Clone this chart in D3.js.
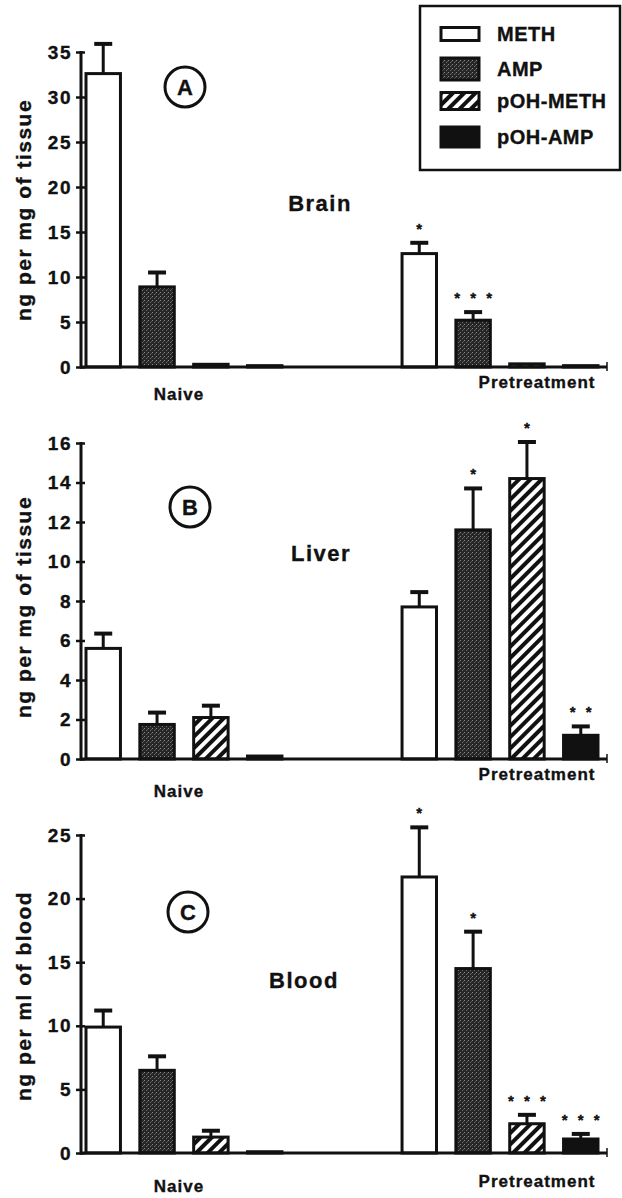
<!DOCTYPE html>
<html>
<head>
<meta charset="utf-8">
<script src="https://cdn.jsdelivr.net/npm/d3@7"></script>
<style>
  body { margin: 0; background: #fff; }
  text { font-family: Arial, "Liberation Sans", Helvetica, sans-serif; font-weight: bold; fill: #111; stroke: #111; stroke-width: 0.35px; }
</style>
</head>
<body>
<svg id="chart"></svg>
<script>
const groups = ["Naive", "Pretreatment"];
const series = ["METH", "AMP", "pOH-METH", "pOH-AMP"];

// brain, ng per mg of tissue  (rows: Naive, Pretreatment)
const brainMean = [[32.6, 8.9, 0.3, 0.15], [12.6, 5.2, 0.35, 0.15]];
const brainSem = [[3.3, 1.6, 0, 0], [1.2, 0.9, 0, 0]];
const brainStars = [["", "", "", ""], ["*", "***", "", ""]];
const brainTicks = [0, 5, 10, 15, 20, 25, 30, 35];

// liver, ng per mg of tissue
const liverMean = [[5.6, 1.75, 2.1, 0.15], [7.7, 11.6, 14.2, 1.2]];
const liverSem = [[0.75, 0.6, 0.6, 0], [0.75, 2.1, 1.85, 0.45]];
const liverStars = [["", "", "", ""], ["", "*", "*", "**"]];
const liverTicks = [0, 2, 4, 6, 8, 10, 12, 14, 16];

// blood, ng per ml of blood
const bloodMean = [[9.9, 6.5, 1.25, 0.1], [21.7, 14.5, 2.3, 1.1]];
const bloodSem = [[1.3, 1.1, 0.5, 0], [3.9, 2.9, 0.7, 0.4]];
const bloodStars = [["", "", "", ""], ["*", "*", "***", "***"]];
const bloodTicks = [0, 5, 10, 15, 20, 25];

const width = 622, height = 1198;
const svg = d3.select("#chart").attr("width", width).attr("height", height);

// fills
const defs = svg.append("defs");
const stip = defs.append("pattern").attr("id", "stip")
  .attr("patternUnits", "userSpaceOnUse").attr("width", 4).attr("height", 4);
stip.append("rect").attr("width", 4).attr("height", 4).attr("fill", "#262626");
stip.append("rect").attr("x", 0).attr("y", 0).attr("width", 1).attr("height", 1).attr("fill", "#8a8a8a");
stip.append("rect").attr("x", 2).attr("y", 2).attr("width", 1).attr("height", 1).attr("fill", "#6e6e6e");
stip.append("rect").attr("x", 3).attr("y", 1).attr("width", 1).attr("height", 1).attr("fill", "#555");

const hatch = defs.append("pattern").attr("id", "hatch")
  .attr("patternUnits", "userSpaceOnUse").attr("width", 8).attr("height", 8)
  .attr("patternTransform", "rotate(45)");
hatch.append("rect").attr("width", 8).attr("height", 8).attr("fill", "#fff");
hatch.append("rect").attr("width", 4).attr("height", 8).attr("fill", "#111");

const fills = {"METH": "#fff", "AMP": "url(#stip)", "pOH-METH": "url(#hatch)", "pOH-AMP": "#111"};

const x0 = d3.scaleBand().domain(groups).range([86, 598]).paddingInner(0.38);
const x1 = d3.scaleBand().domain(series).range([0, x0.bandwidth()]).paddingInner(0.36);

const panels = [
  {key: "A", tissue: "Brain", ylab: "ng per mg of tissue", mean: brainMean, sem: brainSem, stars: brainStars,
   ticks: brainTicks, top: 52, base: 367, circ: [185, 87], lab: [320, 203], yl: 210, gdy: [33, 21]},
  {key: "B", tissue: "Liver", ylab: "ng per mg of tissue", mean: liverMean, sem: liverSem, stars: liverStars,
   ticks: liverTicks, top: 443, base: 759, circ: [190, 507], lab: [321, 553], yl: 607, gdy: [38, 21]},
  {key: "C", tissue: "Blood", ylab: "ng per ml of blood", mean: bloodMean, sem: bloodSem, stars: bloodStars,
   ticks: bloodTicks, top: 835, base: 1153, circ: [188, 912], lab: [304, 980], yl: 996, gdy: [39, 34]}
];

panels.forEach(p => {
  const y = d3.scaleLinear().domain([0, d3.max(p.ticks)]).range([p.base, p.top]);
  const g = svg.append("g");

  const rows = [];
  groups.forEach((grp, gi) => series.forEach((s, si) => {
    rows.push({grp, s, v: p.mean[gi][si], e: p.sem[gi][si], star: p.stars[gi][si]});
  }));

  const bar = g.selectAll("g.bar").data(rows).join("g").attr("class", "bar");
  bar.append("rect")
    .attr("x", d => x0(d.grp) + x1(d.s))
    .attr("y", d => y(d.v))
    .attr("width", x1.bandwidth())
    .attr("height", d => p.base - y(d.v))
    .attr("fill", d => fills[d.s])
    .attr("stroke", "#111").attr("stroke-width", 3);

  const eb = bar.filter(d => d.e > 0);
  eb.append("line")
    .attr("x1", d => x0(d.grp) + x1(d.s) + x1.bandwidth() / 2)
    .attr("x2", d => x0(d.grp) + x1(d.s) + x1.bandwidth() / 2)
    .attr("y1", d => y(d.v)).attr("y2", d => y(d.v + d.e))
    .attr("stroke", "#111").attr("stroke-width", 3);
  eb.append("line")
    .attr("x1", d => x0(d.grp) + x1(d.s) + x1.bandwidth() / 2 - 9)
    .attr("x2", d => x0(d.grp) + x1(d.s) + x1.bandwidth() / 2 + 9)
    .attr("y1", d => y(d.v + d.e)).attr("y2", d => y(d.v + d.e))
    .attr("stroke", "#111").attr("stroke-width", 4);

  // significance stars
  bar.filter(d => d.star).each(function(d) {
    const n = d.star.length, cx = x0(d.grp) + x1(d.s) + x1.bandwidth() / 2;
    for (let i = 0; i < n; i++) {
      d3.select(this).append("text")
        .attr("x", cx + (i - (n - 1) / 2) * 16)
        .attr("y", y(d.v + d.e) - 16 + 7)
        .attr("text-anchor", "middle")
        .style("font-size", "15px")
        .text("*");
    }
  });

  // axes
  const yAxis = g.append("g").attr("transform", "translate(81,0)")
    .call(d3.axisLeft(y).tickValues(p.ticks).tickSize(5).tickPadding(4));
  yAxis.select(".domain").remove();
  yAxis.selectAll(".tick line").attr("x1", -5).attr("x2", 4).attr("stroke", "#111").attr("stroke-width", 2.5);
  yAxis.selectAll(".tick text").style("font-size", "19px").style("letter-spacing", "1.5px")
    .attr("font-family", null).attr("fill", "#111");
  g.append("line").attr("x1", 81).attr("x2", 81).attr("y1", p.top - 1).attr("y2", p.base + 1.5)
    .attr("stroke", "#111").attr("stroke-width", 3);
  g.append("line").attr("x1", 80).attr("x2", 607).attr("y1", p.base).attr("y2", p.base)
    .attr("stroke", "#111").attr("stroke-width", 3);
  g.append("line").attr("x1", 607).attr("x2", 607).attr("y1", p.base - 5).attr("y2", p.base + 4)
    .attr("stroke", "#111").attr("stroke-width", 1.5);

  g.selectAll("text.grp").data(groups).join("text").attr("class", "grp")
    .attr("x", d => x0(d) + x0.bandwidth() / 2 - (d === "Naive" ? 5 : -37))
    .attr("y", (d, i) => p.base + p.gdy[i])
    .attr("text-anchor", "middle")
    .style("font-size", "17px").style("letter-spacing", "1px")
    .text(d => d);

  g.append("text")
    .attr("transform", `translate(31,${p.yl}) rotate(-90)`)
    .attr("text-anchor", "middle")
    .style("font-size", "21px").style("letter-spacing", "1.5px")
    .text(p.ylab);

  g.append("circle").attr("cx", p.circ[0]).attr("cy", p.circ[1]).attr("r", 20)
    .attr("fill", "none").attr("stroke", "#111").attr("stroke-width", 3);
  g.append("text").attr("x", p.circ[0]).attr("y", p.circ[1] + 8)
    .attr("text-anchor", "middle").style("font-size", "22px").text(p.key);

  g.append("text").attr("x", p.lab[0]).attr("y", p.lab[1] + 8)
    .attr("text-anchor", "middle")
    .style("font-size", "22px").style("letter-spacing", "1.5px")
    .text(p.tissue);
});

// legend
const legY = [34, 69, 101, 137];
const legH = [13, 22, 17, 20];
const leg = svg.append("g");
leg.append("rect").attr("x", 420).attr("y", 6).attr("width", 200).attr("height", 164)
  .attr("fill", "#fff").attr("stroke", "#111").attr("stroke-width", 2.5);
const item = leg.selectAll("g.item").data(series).join("g").attr("class", "item");
item.append("rect")
  .attr("x", 441).attr("width", 38)
  .attr("y", (d, i) => legY[i] - legH[i] / 2)
  .attr("height", (d, i) => legH[i])
  .attr("fill", d => fills[d])
  .attr("stroke", "#111").attr("stroke-width", 3);
item.append("text")
  .attr("x", 497).attr("y", (d, i) => legY[i] + 7)
  .style("font-size", "20px").style("letter-spacing", "0.5px")
  .text(d => d);
</script>
</body>
</html>
